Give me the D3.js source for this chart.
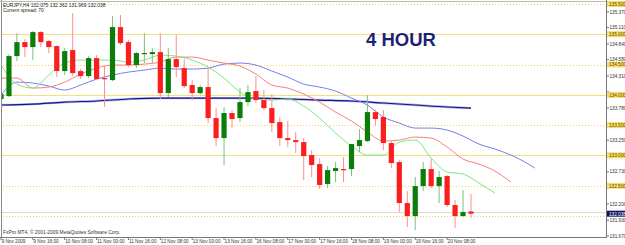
<!DOCTYPE html>
<html><head><meta charset="utf-8">
<script src="https://cdn.jsdelivr.net/npm/d3@7"></script>
<style>body{margin:0;background:#fff}svg{display:block}</style>
</head><body><svg id="c" width="625" height="245"></svg>
<script>
// ---- data (EURJPY H4, 9-20 Nov 2009) ----
const opens  = [133.930,133.979,134.639,134.870,134.788,135.035,134.887,134.804,134.392,134.738,
                134.392,134.309,134.606,134.276,134.243,135.118,134.870,134.491,134.689,134.672,
                134.705,134.029,134.590,134.441,134.161,134.029,134.128,133.616,133.286,133.699,
                133.616,133.880,134.062,133.913,133.781,133.550,133.286,133.253,133.220,133.006,
                132.857,132.527,132.742,132.775,132.775,133.154,133.237,133.715,133.633,133.204,
                132.890,132.214,131.999,132.494,132.775,132.494,132.659,132.181,131.999,132.075];
const highs  = [134.028,134.672,135.019,134.920,135.052,135.052,134.903,134.821,134.771,135.349,
                134.425,134.639,134.656,134.474,135.299,135.316,134.903,134.705,135.019,134.771,
                135.019,134.771,134.986,134.590,134.243,134.161,134.441,133.781,133.798,133.748,
                134.111,134.161,134.309,134.078,134.012,133.633,133.567,133.385,133.286,133.088,
                132.956,132.824,132.890,132.973,133.187,133.435,133.996,133.748,133.748,133.237,
                132.923,132.412,132.643,132.890,132.940,132.742,132.676,132.263,132.428,132.362];
const lows   = [133.369,133.963,134.557,134.623,134.573,134.788,134.689,134.293,134.326,134.309,
                134.260,134.276,134.243,133.798,134.227,134.821,134.458,134.441,134.524,134.524,
                133.930,133.963,134.293,134.111,133.913,133.996,133.534,133.154,132.841,133.451,
                133.550,133.814,133.864,133.748,133.385,133.154,133.138,133.039,132.593,132.643,
                132.445,132.461,132.560,132.560,132.659,133.055,133.220,133.501,133.088,132.791,
                132.065,131.818,131.768,132.412,132.461,132.214,132.148,131.801,131.983,131.969];
const closes = [134.012,134.639,134.870,134.788,135.035,134.870,134.788,134.392,134.722,134.359,
                134.309,134.606,134.260,134.260,135.118,134.854,134.491,134.689,134.690,134.705,
                134.029,134.590,134.458,134.144,134.029,134.128,133.616,133.286,133.699,133.600,
                133.880,134.045,133.913,133.781,133.534,133.286,133.253,133.220,132.989,132.841,
                132.511,132.758,132.791,132.758,133.187,133.253,133.715,133.600,133.204,132.874,
                132.214,131.999,132.494,132.775,132.494,132.643,132.181,131.999,132.065,132.038];

const lipsBars   = [0,2,4,6,8,10,12,14,16,18,20,22,24,26,28,30,32,34,36,38,40,42,44,46,48,50,52,54,56,58,60,62];
const lipsValues = [134.491,134.177,134.111,134.326,134.524,134.573,134.573,134.573,134.540,134.573,
                    134.656,134.639,134.573,134.458,134.276,134.045,133.930,133.913,133.930,133.814,
                    133.616,133.369,133.154,133.006,133.006,133.220,133.253,132.956,132.725,132.692,
                    132.544,132.379];
const teethBars   = [0,2,4,6,8,10,12,14,16,18,20,22,24,26,28,30,32,34,36,38,40,42,44,46,48,50,52,54,56,58,60,62,64];
const teethValues = [134.276,134.276,134.111,134.128,134.210,134.342,134.441,134.491,134.491,134.507,
                     134.540,134.623,134.623,134.573,134.524,134.474,134.342,134.161,134.111,134.012,
                     133.880,133.715,133.567,133.385,133.237,133.253,133.303,133.286,133.138,132.940,
                     132.857,132.742,132.560];
const jawBars   = [0,2,4,6,8,10,12,14,16,18,20,22,24,26,28,30,32,34,36,38,40,42,44,46,48,50,52,54,56,58,60,62,64,66,67];
const jawValues = [133.996,134.210,134.194,134.144,134.078,134.161,134.260,134.326,134.375,134.408,
                   134.441,134.425,134.425,134.441,134.507,134.524,134.491,134.392,134.293,134.177,
                   134.128,134.062,133.946,133.830,133.633,133.534,133.451,133.451,133.418,133.319,
                   133.187,133.105,133.006,132.874,132.791];
const slowBars   = [0,4,8,12,16,20,24,28,32,36,40,44,48,52,56,59];
const slowValues = [133.831,133.847,133.880,133.897,133.930,133.946,133.946,133.946,133.946,133.930,
                    133.913,133.897,133.864,133.831,133.798,133.781];

const timeLabels = ["9 Nov 2009","9 Nov 16:00","10 Nov 08:00","11 Nov 00:00","11 Nov 16:00",
                    "12 Nov 08:00","13 Nov 00:00","13 Nov 16:00","16 Nov 08:00","17 Nov 00:00",
                    "17 Nov 16:00","18 Nov 08:00","19 Nov 00:00","19 Nov 16:00","20 Nov 08:00"];
const timeLabelBars = [0,4,8,12,16,20,24,28,32,36,40,44,48,52,56];
const priceTicks = [135.370,135.110,134.840,134.580,134.310,134.050,133.780,133.520,133.250,
                    132.990,132.730,132.460,132.200,131.930,131.670];
const solidLevels  = [135.0,134.0,133.0];
const dottedLevels = [135.5,134.5,133.5,132.5,132.0];
const levelLabels = ["135.500","135.000","134.500","134.000","133.500","133.000","132.500"];
const levelPrices = [135.5,135.0,134.5,134.0,133.5,133.0,132.5];
const currentPrice = 132.038;
const symbolInfo = "EURJPY,H4 132.075 132.362 131.969 132.038";
const spreadInfo = "Current spread: 70";
const copyright = "FxPro MT4, \u00a9 2001-2009 MetaQuotes Software Corp.";
const title = "4 HOUR";

// ---- drawing ----
const svg = d3.select("#c");
const F = "'Liberation Sans', Arial, sans-serif";
const plotR = 606, plotB = 237;
const x = d3.scaleLinear().domain([0, 59]).range([1, 471]);
const y = d3.scaleLinear().domain([131.67, 135.37]).range([236.0, 11.8]);

svg.append("rect").attr("width",625).attr("height",245).attr("fill","#fff");
const plot = svg.append("g");
svg.append("clipPath").attr("id","pc").append("rect")
  .attr("x",1).attr("y",1).attr("width",plotR-1).attr("height",plotB-1);
plot.attr("clip-path","url(#pc)");

// level lines
plot.selectAll(".ls").data(solidLevels).join("line")
  .attr("x1",0).attr("x2",plotR).attr("y1",d=>Math.round(y(d))+0.5).attr("y2",d=>Math.round(y(d))+0.5)
  .attr("stroke","#f6de7a").attr("stroke-width",1.2);
plot.selectAll(".ld").data(dottedLevels).join("line")
  .attr("x1",0).attr("x2",plotR).attr("y1",d=>Math.round(y(d))+0.5).attr("y2",d=>Math.round(y(d))+0.5)
  .attr("stroke","#f3d35a").attr("stroke-width",1).attr("stroke-dasharray","1,2");
// bid line
plot.append("line").attr("x1",0).attr("x2",plotR)
  .attr("y1",Math.round(y(currentPrice))-1.5).attr("y2",Math.round(y(currentPrice))-1.5)
  .attr("stroke","#d8d8d8").attr("stroke-width",1);

// indicator lines
const line = (bars, vals) => d3.line().x((d,i)=>x(bars[i])).y(d=>y(d)).curve(d3.curveMonotoneX)(vals);
plot.append("path").attr("d",line(slowBars,slowValues)).attr("fill","none")
  .attr("stroke","#b4b4ea").attr("stroke-width",2.4);
plot.append("path").attr("d",line(slowBars,slowValues)).attr("fill","none")
  .attr("stroke","#15158a").attr("stroke-width",1.1);
plot.append("path").attr("d",line(jawBars,jawValues)).attr("fill","none")
  .attr("stroke","#7b7bf0").attr("stroke-width",1);
plot.append("path").attr("d",line(teethBars,teethValues)).attr("fill","none")
  .attr("stroke","#f78080").attr("stroke-width",1);
plot.append("path").attr("d",line(lipsBars,lipsValues)).attr("fill","none")
  .attr("stroke","#7de87d").attr("stroke-width",1);

// candles
const idx = d3.range(opens.length);
const up = i => closes[i] >= opens[i];
plot.selectAll(".wk").data(idx).join("line")
  .attr("x1",i=>x(i)).attr("x2",i=>x(i))
  .attr("y1",i=>y(highs[i])).attr("y2",i=>y(lows[i]))
  .attr("stroke",i=>up(i)?"#7fbf7f":"#ff8c8c").attr("stroke-width",1);
plot.selectAll(".bd").data(idx).join("rect")
  .attr("x",i=>x(i)-2.6).attr("width",5.2)
  .attr("y",i=>y(Math.max(opens[i],closes[i])))
  .attr("height",i=>Math.max(1.2, Math.abs(y(opens[i])-y(closes[i]))))
  .attr("fill",i=>up(i)?"#0a7d0a":"#fa1e1e");

// frame
svg.append("line").attr("x1",1.5).attr("x2",1.5).attr("y1",0).attr("y2",plotB)
  .attr("stroke","#8a8a8a");
svg.append("line").attr("x1",0).attr("x2",plotR).attr("y1",1.5).attr("y2",1.5)
  .attr("stroke","#b8b8b8");
svg.append("line").attr("x1",plotR+0.5).attr("x2",plotR+0.5).attr("y1",0).attr("y2",plotB+0.5)
  .attr("stroke","#777");
svg.append("line").attr("x1",0).attr("x2",plotR+1).attr("y1",plotB+0.5).attr("y2",plotB+0.5)
  .attr("stroke","#777");

// price axis (labels hidden under the highlighted level boxes are not drawn)
const hidden = p => levelPrices.concat([currentPrice]).some(l => Math.abs(y(l)-y(p)) < 4);
const pa = svg.append("g");
pa.selectAll("line").data(priceTicks).join("line")
  .attr("x1",plotR).attr("x2",plotR+3).attr("y1",d=>y(d)).attr("y2",d=>y(d)).attr("stroke","#777");
pa.selectAll("text").data(priceTicks.filter(p=>!hidden(p))).join("text")
  .attr("x",plotR+3.5).attr("y",d=>y(d)+1.7).text(d=>d.toFixed(3))
  .attr("font-family",F).attr("font-size",4.7).attr("fill","#333");
const hl = svg.append("g");
levelPrices.forEach((p,i)=>{
  hl.append("rect").attr("x",plotR+1).attr("y",y(p)-3).attr("width",20).attr("height",6).attr("fill","#f7dc6a");
  hl.append("text").attr("x",plotR+3).attr("y",y(p)+1.8).text(levelLabels[i])
    .attr("font-family",F).attr("font-size",4.7).attr("fill","#5a4a00");
});
hl.append("rect").attr("x",plotR+1).attr("y",y(currentPrice)-3).attr("width",20).attr("height",6).attr("fill","#121260");
hl.append("text").attr("x",plotR+3).attr("y",y(currentPrice)+1.8).text(currentPrice.toFixed(3))
  .attr("font-family",F).attr("font-size",4.7).attr("fill","#fff");

// time axis
const ta = svg.append("g");
ta.selectAll("line").data(timeLabelBars).join("line")
  .attr("x1",b=>x(b)).attr("x2",b=>x(b)).attr("y1",plotB).attr("y2",plotB+3).attr("stroke","#777");
ta.selectAll("text").data(timeLabels).join("text")
  .attr("x",(d,i)=>x(timeLabelBars[i])+0.5).attr("y",242.5).text(d=>d)
  .attr("font-family",F).attr("font-size",4.7).attr("fill","#333");

// texts
svg.append("text").attr("x",3).attr("y",7.3).text(symbolInfo)
  .attr("font-family",F).attr("font-size",4.9).attr("fill","#222");
svg.append("text").attr("x",3).attr("y",12).text(spreadInfo)
  .attr("font-family",F).attr("font-size",4.9).attr("fill","#222");
svg.append("text").attr("x",3).attr("y",234).text(copyright)
  .attr("font-family",F).attr("font-size",4.9).attr("fill","#333");
svg.append("text").attr("x",366).attr("y",46).text(title)
  .attr("font-family",F).attr("font-weight","bold").attr("font-size",18.5).attr("fill","#1f1f78");
</script></body></html>
